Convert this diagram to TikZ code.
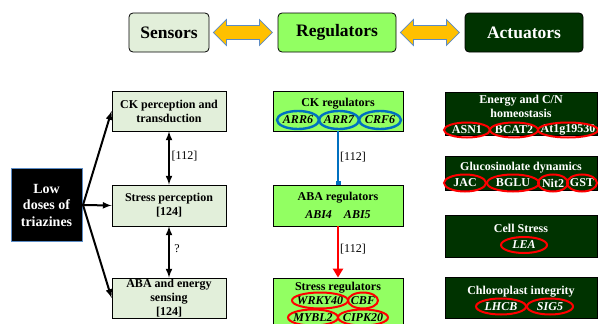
\documentclass[tikz,border=0pt]{standalone}
\usepackage{fontspec}
\setmainfont{Liberation Serif}
\usetikzlibrary{shapes,arrows.meta}

\definecolor{paleg}{HTML}{E2EFDA}
\definecolor{limeg}{HTML}{92FF62}
\definecolor{darkg}{HTML}{003300}
\definecolor{amber}{HTML}{FFC000}
\definecolor{steel}{HTML}{5B8BC5}
\definecolor{ringblue}{HTML}{0070C0}

\tikzset{
  head/.style={draw=black, rounded corners=4pt, line width=0.8pt, inner sep=0pt,
    minimum width=#1, minimum height=39pt, font=\fontsize{17.5}{20}\selectfont\bfseries},
  sensbox/.style={rectangle, draw=black, fill=paleg, line width=0.8pt, inner sep=0pt,
    minimum width=114pt, minimum height=#1},
  regbox/.style={rectangle, draw=black, fill=limeg, line width=0.8pt, inner sep=0pt,
    minimum width=130pt, minimum height=#1},
  actbox/.style={rectangle, draw=black, fill=darkg, line width=0.8pt, inner sep=0pt,
    minimum width=152pt, minimum height=#1},
  btxt/.style={inner sep=0pt, align=center, font=\fontsize{12}{14}\selectfont\bfseries},
  wtxt/.style={btxt, text=white},
  itxt/.style={btxt, font=\fontsize{12}{14}\selectfont\bfseries\itshape},
  witxt/.style={itxt, text=white},
  cite/.style={inner sep=0pt, font=\fontsize{12}{14}\selectfont},
  redring/.style={draw=red, line width=2pt},
  bluering/.style={draw=ringblue, line width=2.4pt},
  fat/.style={line width=2pt},
  dblarrow/.style={fill=amber, draw=steel, line width=0.8pt, line join=miter}
}

\begin{document}
\begin{tikzpicture}[x=1pt, y=-1pt]

  \useasboundingbox (0,0) rectangle (598,324);

  % top row
  \node[head=80pt, fill=paleg] (sen) at (169,32.5) {Sensors};
  \node[head=118pt, fill=limeg] (reg) at (337,32.5) {Regulators};
  \node[head=118pt, fill=darkg, text=white] (act) at (524,32.5) {Actuators};

  \filldraw[dblarrow] ([xshift=4pt]sen.east) -- ++(13,-13) -- ++(0,6) -- ++(33,0)
    -- ++(0,-6) -- ++(13,13) -- ++(-13,13) -- ++(0,-6) -- ++(-33,0) -- ++(0,6) -- cycle;
  \filldraw[dblarrow] ([xshift=4pt]reg.east) -- ++(13,-13) -- ++(0,6) -- ++(33,0)
    -- ++(0,-6) -- ++(13,13) -- ++(-13,13) -- ++(0,-6) -- ++(-33,0) -- ++(0,6) -- cycle;

  % triazines
  \node[rectangle, fill=black, draw=steel, line width=0.8pt, minimum width=71pt,
    minimum height=73pt, inner sep=0pt, text=white, align=center,
    font=\fontsize{14}{16.5}\selectfont\bfseries] (low) at (46.5,205) {Low\\doses of\\triazines};
  \coordinate (fan) at (83,205);

  % sensing column
  \node[sensbox=40pt] (ck) at (169,111) {};
  \node[btxt] (ckt) at (169,111) {CK perception and\\transduction};
  \node[sensbox=41pt] (sp) at (169,205.5) {};
  \node[btxt] (spt) at (169,205.5) {Stress perception\\{}[124]};
  \node[sensbox=40pt] (aba) at (169,298) {};
  \node[btxt] (abat) at (169,298) {ABA and energy\\sensing\\{}[124]};

  \draw[-latex, fat] (fan) -- (ck.west);
  \draw[-latex, fat] (fan) -- (sp.west);
  \draw[-latex, fat] (fan) -- (aba.west);

  \draw[latex-latex, fat] (ck.south) -- (sp.north);
  \node[cite] (c1) at (184.5,156) {[112]};
  \draw[latex-latex, fat] (sp.south) -- (aba.north);
  \node[cite] (c2) at (177,249) {?};

  % regulators column
  \node[regbox=40pt] (ckr) at (338,111) {};
  \node[btxt] (ckrt) at (338,104) {CK regulators};
  \node[itxt] (arr6) at (298,120) {ARR6};
  \node[itxt] (arr7) at (339,120) {ARR7};
  \node[itxt] (crf6) at (380,120) {CRF6};
  \draw[bluering] (arr6) ellipse [x radius=21pt, y radius=9pt];
  \draw[bluering] (arr7) ellipse [x radius=20pt, y radius=9pt];
  \draw[bluering] (crf6) ellipse [x radius=21pt, y radius=9pt];

  \node[regbox=41pt] (abar) at (338,205.5) {};
  \node[btxt] (abart) at (338,198) {ABA regulators};
  \node[itxt] (abi) at (338,214.5) {ABI4\quad ABI5};

  \node[regbox=52pt] (srr) at (338,304) {};
  \node[btxt] (srrt) at (338,288) {Stress regulators};
  \node[itxt] (wrky) at (320,300.5) {WRKY40};
  \node[itxt] (cbf) at (363,300.5) {CBF};
  \node[itxt] (mybl) at (313,317.5) {MYBL2};
  \node[itxt] (cipk) at (363,317.5) {CIPK20};
  \draw[redring] (wrky) ellipse [x radius=28pt, y radius=8pt];
  \draw[redring] (cbf) ellipse [x radius=15pt, y radius=8pt];
  \draw[redring] (mybl) ellipse [x radius=25pt, y radius=8pt];
  \draw[redring] (cipk) ellipse [x radius=25pt, y radius=8pt];

  \draw[-{Square[length=4pt,width=5pt]}, draw=ringblue, fill=ringblue, line width=2.4pt]
    (ckr.south) -- (abar.north);
  \node[cite] (c3) at (353,157) {[112]};
  \draw[-{Triangle[length=9pt,width=10pt]}, draw=red, fill=red, line width=2.4pt]
    (abar.south) -- (srr.north);
  \node[cite] (c4) at (353,249) {[112]};

  % actuators column
  \node[actbox=43pt] (en) at (521,113.5) {};
  \node[wtxt] (ent) at (521,106) {Energy and C/N\\homeostasis};
  \node[wtxt] (asn) at (467,130) {ASN1};
  \node[wtxt] (bcat) at (514,130) {BCAT2};
  \node[wtxt] (atg) at (568,130) {At1g19530};
  \draw[redring] (asn) ellipse [x radius=23pt, y radius=7.5pt];
  \draw[redring] (bcat) ellipse [x radius=24pt, y radius=7.5pt];
  \draw[redring] (atg) ellipse [x radius=30pt, y radius=7.5pt];

  \node[actbox=34pt] (gl) at (521,173) {};
  \node[wtxt] (glt) at (521,167.5) {Glucosinolate dynamics};
  \node[wtxt] (jac) at (465,183) {JAC};
  \node[wtxt] (bglu) at (513,183) {BGLU};
  \node[wtxt] (nit) at (553,183) {Nit2};
  \node[wtxt] (gst) at (582,183) {GST};
  \draw[redring] (jac) ellipse [x radius=21pt, y radius=8.5pt];
  \draw[redring] (bglu) ellipse [x radius=26pt, y radius=8.5pt];
  \draw[redring] (nit) ellipse [x radius=15pt, y radius=8.5pt];
  \draw[redring] (gst) ellipse [x radius=15pt, y radius=8.5pt];

  \node[actbox=42pt] (cs) at (521,236) {};
  \node[wtxt] (cst) at (521,228) {Cell Stress};
  \node[witxt] (lea) at (524,245) {LEA};
  \draw[redring] (lea) ellipse [x radius=23pt, y radius=8pt];

  \node[actbox=41pt] (cp) at (521,297.5) {};
  \node[wtxt] (cpt) at (521,291.5) {Chloroplast integrity};
  \node[witxt] (lhcb) at (501,306.5) {LHCB};
  \node[witxt] (sig) at (550,306.5) {SIG5};
  \draw[redring] (lhcb) ellipse [x radius=25pt, y radius=8pt];
  \draw[redring] (sig) ellipse [x radius=23pt, y radius=8pt];

\end{tikzpicture}
\end{document}
